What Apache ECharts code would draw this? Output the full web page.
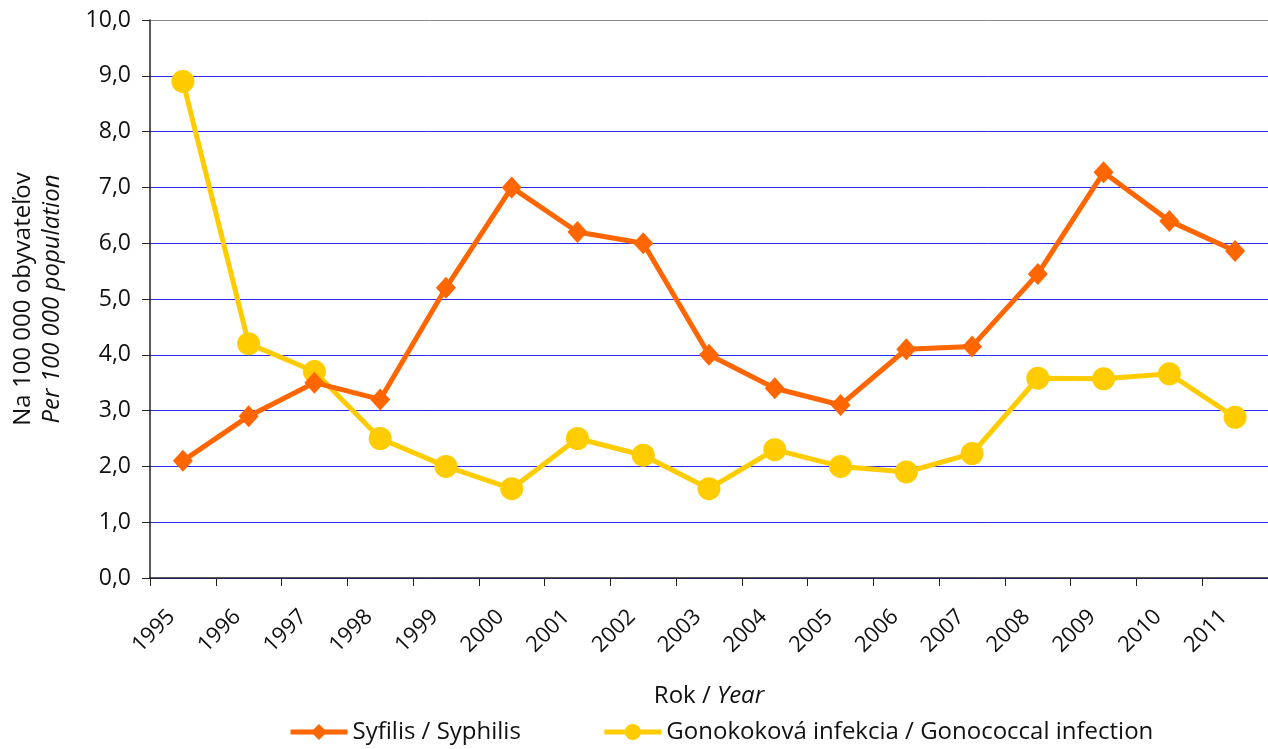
<!DOCTYPE html>
<html>
<head>
<meta charset="utf-8">
<script src="https://cdn.jsdelivr.net/npm/echarts@6/dist/echarts.min.js"></script>
<style>
  html, body { margin: 0; padding: 0; background: #fff; }
  #chart { width: 1268px; height: 749px; }
</style>
</head>
<body>
<div id="chart"></div>
<script>
let years = ['1995', '1996', '1997', '1998', '1999', '2000', '2001', '2002', '2003',
    '2004', '2005', '2006', '2007', '2008', '2009', '2010', '2011']
let syphilis = [2.1, 2.9, 3.5, 3.2, 5.2, 7.0, 6.2, 6.0, 4.0, 3.4, 3.1, 4.1, 4.15, 5.45, 7.27, 6.4, 5.86]
let gonorrhoea = [8.9, 4.2, 3.7, 2.5, 2.0, 1.6, 2.5, 2.2, 1.6, 2.3, 2.0, 1.9, 2.23, 3.58, 3.57, 3.66, 2.88]
let syphilis_name = 'Syfilis / Syphilis'
let gono_name = 'Gonokoková infekcia / Gonococcal infection'

const font = 'Open Sans'

// split line colours: blue everywhere, grey on the top edge
let split_colors = []
for (let i = 0; i < 10; i++) split_colors.push('#2a2aee')
split_colors.push('#8a8a8a')

let option = {
    textStyle: { fontFamily: font },
    animation: false,
    grid: {
        left: 150,
        right: 0,
        top: 20,
        bottom: 171,
        outerBoundsMode: 'none',
        containLabel: false
    },
    legend: {
        bottom: 0,
        left: 283,
        itemWidth: 57,
        itemHeight: 20,
        itemGap: 81,
        lineStyle: { width: 5 },
        textStyle: { fontFamily: font, fontSize: 24, color: '#111' },
        data: [syphilis_name, gono_name]
    },
    xAxis: {
        type: 'category',
        data: years,
        boundaryGap: true,
        name: 'Rok / {i|Year}',
        nameLocation: 'middle',
        nameGap: 106,
        nameTextStyle: {
            fontFamily: font, fontSize: 24, color: '#111',
            rich: { i: { fontStyle: 'italic', fontFamily: font, fontSize: 24, color: '#111' } }
        },
        axisLine: { lineStyle: { color: '#222', width: 1.5 } },
        axisTick: { show: true, alignWithLabel: false, length: 8, lineStyle: { color: '#222' } },
        axisLabel: {
            rotate: 45,
            fontFamily: font,
            fontSize: 22,
            color: '#111',
            margin: 24,
            padding: [0, 16, 0, 0],
            interval: 0
        }
    },
    yAxis: {
        type: 'value',
        min: 0,
        max: 10,
        interval: 1,
        name: 'Na 100 000 obyvateľov\n{i|Per 100 000 population}',
        nameLocation: 'middle',
        nameRotate: 90,
        nameGap: 83,
        nameTextStyle: {
            fontFamily: font, fontSize: 24, color: '#111', lineHeight: 29,
            rich: { i: { fontStyle: 'italic', fontFamily: font, fontSize: 24, color: '#111', lineHeight: 29 } }
        },
        axisLine: { show: true, lineStyle: { color: '#222', width: 1.5 } },
        axisTick: { show: true, length: 8, inside: false, lineStyle: { color: '#222' } },
        axisLabel: {
            fontFamily: font,
            fontSize: 23,
            color: '#111',
            margin: 19,
            formatter: function (v) { return v.toFixed(1).replace('.', ',') }
        },
        splitLine: { show: true, lineStyle: { color: split_colors, width: 1 } }
    },
    series: [
        {
            name: syphilis_name,
            type: 'line',
            data: syphilis,
            symbol: 'diamond',
            symbolSize: [20, 22],
            color: '#ff6600',
            lineStyle: { width: 5, color: '#ff6600' },
            itemStyle: { color: '#ff6600' },
            z: 3
        },
        {
            name: gono_name,
            type: 'line',
            data: gonorrhoea,
            symbol: 'circle',
            symbolSize: 23,
            color: '#ffcc00',
            lineStyle: { width: 5, color: '#ffcc00' },
            itemStyle: { color: '#ffcc00' },
            z: 2
        }
    ]
}

const dom = document.getElementById('chart')
const myChart = echarts.init(dom)
myChart.setOption(option, true)
</script>
</body>
</html>
